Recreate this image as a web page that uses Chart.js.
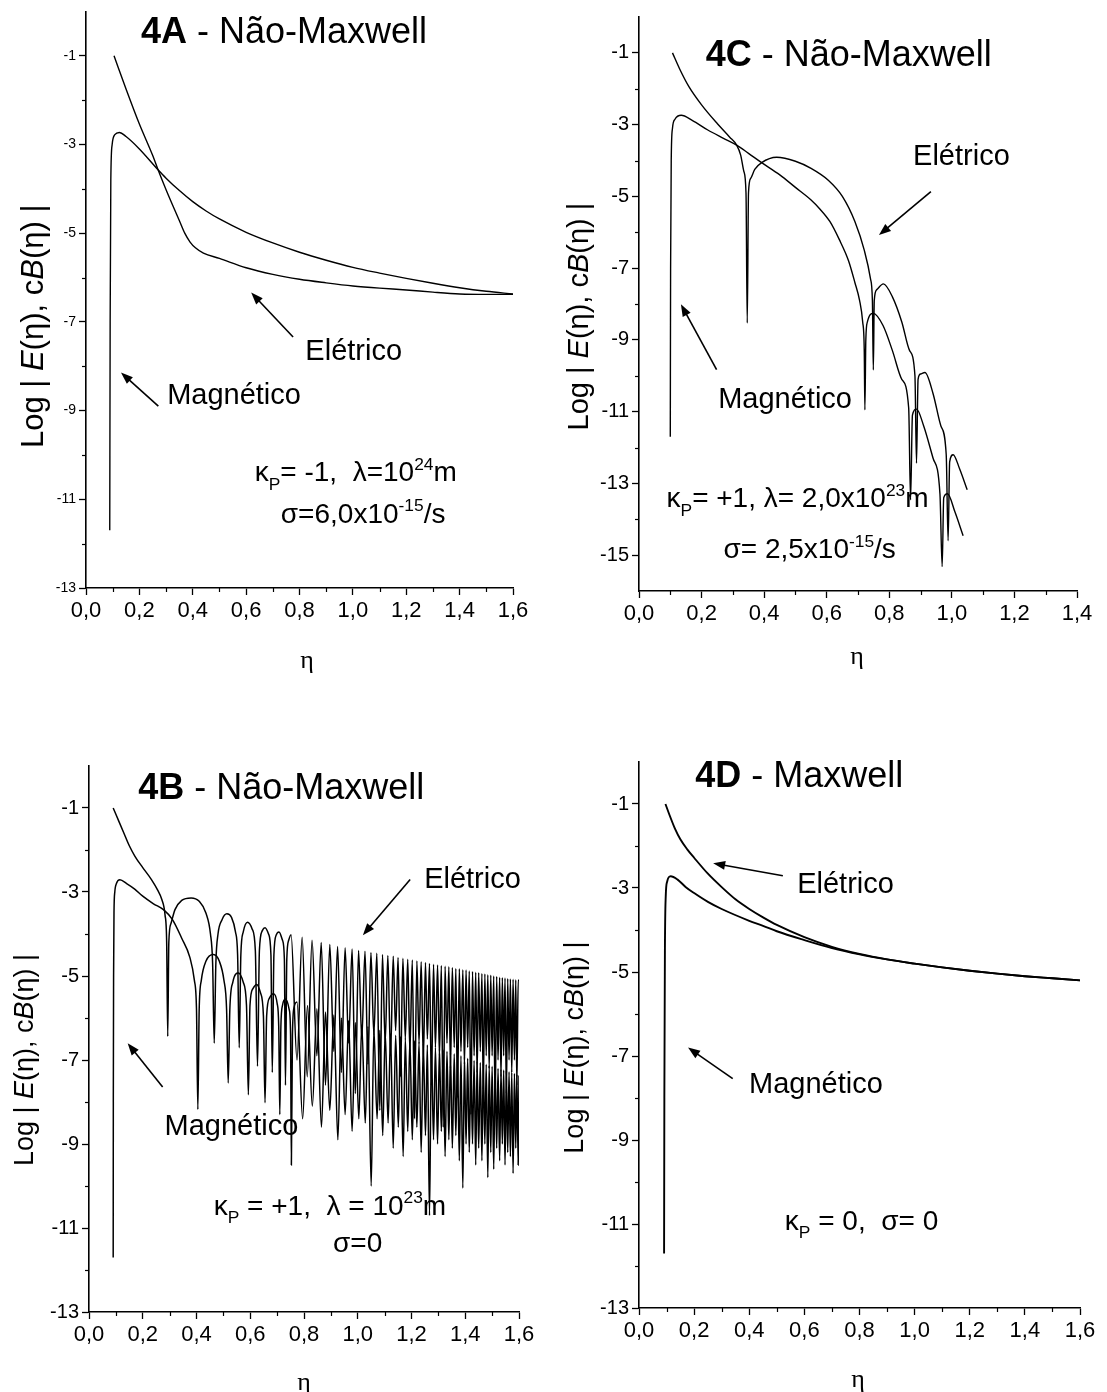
<!DOCTYPE html>
<html>
<head>
<meta charset="utf-8">
<script src="https://cdn.jsdelivr.net/npm/chart.js@4.4.1/dist/chart.umd.min.js"></script>
<style>
html,body{margin:0;padding:0;background:#fff;}
#wrap{position:relative;width:1107px;height:1392px;background:#fff;overflow:hidden;}
canvas{position:absolute;display:block;}
</style>
</head>
<body>
<div id="wrap">
<canvas id="cA" width="553" height="696" style="left:0;top:0;width:553px;height:696px"></canvas>
<canvas id="cC" width="554" height="696" style="left:553px;top:0;width:554px;height:696px"></canvas>
<canvas id="cB" width="553" height="696" style="left:0;top:696px;width:553px;height:696px"></canvas>
<canvas id="cD" width="554" height="696" style="left:553px;top:696px;width:554px;height:696px"></canvas>
</div>
<script>
// ---------- tick values ----------
const xTicks16 = [0, 0.2, 0.4, 0.6, 0.8, 1.0, 1.2, 1.4, 1.6];
const xMinor16 = [0.1, 0.3, 0.5, 0.7, 0.9, 1.1, 1.3, 1.5];
const xTicks14 = [0, 0.2, 0.4, 0.6, 0.8, 1.0, 1.2, 1.4];
const xMinor14 = [0.1, 0.3, 0.5, 0.7, 0.9, 1.1, 1.3];
const yTicks13 = [-13, -11, -9, -7, -5, -3, -1];
const yMinor13 = [-12, -10, -8, -6, -4, -2];
const yTicks15 = [-15, -13, -11, -9, -7, -5, -3, -1];
const yMinor15 = [-14, -12, -10, -8, -6, -4, -2];

// ---------- 4A : [eta, log|field|] ----------
const aElec = [[0.105,-1.0],[0.15,-1.75],[0.2,-2.54],[0.25,-3.25],[0.27,-3.57],[0.3,-4.02],[0.35,-4.72],[0.37,-5.0],[0.39,-5.2],[0.41,-5.33],[0.44,-5.45],[0.5,-5.57],[0.6,-5.78],[0.7,-5.93],[0.8,-6.04],[0.9,-6.12],[1.0,-6.19],[1.1,-6.24],[1.2,-6.28],[1.3,-6.33],[1.4,-6.37],[1.5,-6.38],[1.6,-6.38]];
const aMag = [[0.089,-11.7],[0.0905,-7.0],[0.093,-3.8],[0.098,-3.0],[0.108,-2.78],[0.125,-2.73],[0.15,-2.82],[0.2,-3.1],[0.27,-3.57],[0.3,-3.76],[0.35,-4.04],[0.4,-4.29],[0.45,-4.5],[0.5,-4.68],[0.6,-4.98],[0.7,-5.22],[0.8,-5.43],[0.9,-5.61],[1.0,-5.77],[1.1,-5.9],[1.2,-6.02],[1.3,-6.13],[1.4,-6.23],[1.5,-6.31],[1.6,-6.37]];

// ---------- 4C ----------
const cElec = [[0.107,-1.0],[0.13,-1.45],[0.16,-1.95],[0.2,-2.45],[0.25,-2.97],[0.29,-3.35],[0.312,-3.57],[0.325,-3.85],[0.335,-4.3],[0.342,-4.9],[0.346,-8.53],[0.35,-4.9],[0.357,-4.5],[0.37,-4.25],[0.392,-4.06],[0.44,-3.91],[0.5,-4.02],[0.55,-4.22],[0.605,-4.55],[0.65,-5.0],[0.69,-5.7],[0.72,-6.5],[0.74,-7.3],[0.746,-7.9],[0.749,-9.84],[0.752,-7.9],[0.76,-7.6],[0.781,-7.44],[0.81,-7.8],[0.84,-8.5],[0.865,-9.3],[0.882,-10.0],[0.887,-12.44],[0.892,-10.1],[0.9,-9.95],[0.914,-9.91],[0.94,-10.5],[0.965,-11.4],[0.982,-12.2],[0.988,-14.6],[0.993,-12.4],[1.004,-12.2],[1.025,-12.6],[1.049,-13.18]];
const cMag = [[0.1,-11.7],[0.101,-7.0],[0.103,-4.0],[0.107,-3.1],[0.115,-2.85],[0.135,-2.74],[0.17,-2.88],[0.22,-3.15],[0.27,-3.38],[0.312,-3.57],[0.35,-3.8],[0.392,-4.06],[0.45,-4.4],[0.5,-4.75],[0.55,-5.1],[0.578,-5.35],[0.61,-5.7],[0.64,-6.2],[0.67,-6.8],[0.69,-7.4],[0.705,-7.9],[0.715,-8.5],[0.72,-9.3],[0.722,-10.95],[0.725,-9.0],[0.73,-8.5],[0.749,-8.26],[0.78,-8.6],[0.81,-9.3],[0.84,-10.1],[0.862,-10.9],[0.868,-13.46],[0.874,-11.1],[0.887,-10.93],[0.91,-11.4],[0.94,-12.3],[0.962,-13.3],[0.969,-15.32],[0.974,-13.4],[0.986,-13.29],[1.01,-13.8],[1.036,-14.46]];

// ---------- 4B ----------
const bElec = [[0.09,-1.0],[0.11,-1.3],[0.13,-1.6],[0.15,-1.9],[0.171,-2.15],[0.2,-2.42],[0.233,-2.71],[0.255,-2.95],[0.271,-3.18],[0.283,-3.55],[0.289,-4.2],[0.293,-6.44],[0.297,-4.2],[0.305,-3.75],[0.32,-3.42],[0.345,-3.2],[0.38,-3.14],[0.41,-3.22],[0.435,-3.5],[0.452,-4.0],[0.46,-4.7],[0.466,-6.6],[0.472,-4.7],[0.48,-4.0],[0.495,-3.66],[0.513,-3.52],[0.53,-3.6],[0.545,-3.95],[0.553,-4.5],[0.559,-6.71],[0.565,-4.5],[0.574,-3.95],[0.59,-3.72],[0.607,-3.88],[0.619,-4.4],[0.627,-7.15],[0.634,-4.4],[0.645,-3.92],[0.655,-3.85],[0.668,-4.0],[0.677,-4.5],[0.682,-7.3],[0.688,-4.5],[0.697,-4.02],[0.707,-3.95],[0.72,-4.15],[0.727,-4.6],[0.731,-7.6],[0.736,-4.6],[0.743,-4.15],[0.752,-4.02],
[0.774,-7.0],[0.793,-4.08],[0.812,-7.4],[0.83,-4.15],[0.848,-6.9],[0.864,-4.2],[0.88,-7.6],[0.896,-4.25],[0.911,-6.8],[0.925,-4.3],[0.939,-7.3],[0.953,-4.33],[0.966,-6.6],[0.979,-4.36],[0.991,-7.8],[1.003,-4.39],[1.015,-6.5],[1.027,-4.41],[1.038,-7.1],[1.049,-4.44],[1.06,-6.4],[1.071,-4.46],[1.082,-8.2],[1.092,-4.49],[1.102,-6.6],[1.112,-4.51],[1.122,-6.9],[1.132,-4.53],[1.141,-6.3],[1.15,-4.56],[1.159,-7.4],[1.168,-4.58],[1.177,-6.5],[1.186,-4.6],[1.194,-6.8],[1.203,-4.62],[1.211,-8.4],[1.22,-4.64],[1.228,-6.6],[1.236,-4.66],[1.244,-7.0],[1.252,-4.68],[1.259,-6.5],[1.267,-4.7],[1.274,-7.6],[1.282,-4.72],[1.289,-6.7],[1.297,-4.74],[1.304,-6.9],[1.311,-4.75],[1.318,-8.6],[1.325,-4.77],[1.332,-6.6],[1.339,-4.78],[1.345,-7.2],[1.352,-4.8],[1.359,-6.7],[1.365,-4.82],[1.371,-7.9],[1.378,-4.83],[1.384,-6.8],[1.391,-4.85],[1.397,-7.1],[1.403,-4.86],[1.409,-6.7],[1.415,-4.88],[1.421,-8.3],[1.427,-4.89],[1.433,-6.9],[1.439,-4.91],[1.444,-7.3],[1.45,-4.92],[1.456,-6.8],[1.462,-4.94],[1.467,-7.7],[1.473,-4.95],[1.478,-6.9],[1.484,-4.97],[1.489,-7.2],[1.495,-4.98],[1.5,-6.9],[1.506,-5.0],[1.511,-8.1],[1.517,-5.01],[1.522,-7.0],[1.528,-5.03],[1.533,-7.4],[1.538,-5.04],[1.543,-6.9],[1.548,-5.05],[1.553,-7.8],[1.558,-5.06],[1.563,-7.0],[1.568,-5.07],[1.573,-7.3],[1.578,-5.08],[1.583,-7.0],[1.588,-5.09],[1.592,-7.6],[1.597,-5.1],[1.6,-5.1]];
const bMag = [[0.09,-11.7],[0.0905,-8.0],[0.0915,-5.0],[0.093,-3.5],[0.096,-3.0],[0.102,-2.8],[0.115,-2.71],[0.14,-2.8],[0.17,-2.93],[0.2,-3.1],[0.24,-3.28],[0.277,-3.42],[0.31,-3.65],[0.345,-4.1],[0.375,-4.55],[0.392,-5.1],[0.4,-5.8],[0.405,-8.18],[0.41,-5.8],[0.418,-5.1],[0.435,-4.65],[0.463,-4.49],[0.485,-4.65],[0.502,-5.1],[0.512,-5.8],[0.518,-7.55],[0.524,-5.8],[0.535,-5.15],[0.556,-4.93],[0.574,-5.15],[0.586,-5.7],[0.593,-7.83],[0.599,-5.7],[0.61,-5.3],[0.624,-5.2],[0.638,-5.4],[0.649,-5.95],[0.655,-8.02],[0.661,-5.95],[0.672,-5.52],[0.687,-5.42],[0.7,-5.65],[0.706,-6.2],[0.71,-8.3],[0.714,-6.2],[0.72,-5.7],[0.731,-5.55],[0.745,-5.8],[0.75,-6.4],[0.753,-9.5],[0.757,-6.4],[0.763,-5.75],[0.774,-5.62],
[0.795,-8.4],[0.813,-5.7],[0.831,-8.1],[0.848,-5.78],[0.865,-8.6],[0.88,-5.86],[0.896,-8.2],[0.911,-5.93],[0.926,-8.9],[0.939,-6.0],[0.953,-8.3],[0.966,-6.06],[0.979,-8.7],[0.991,-6.11],[1.004,-8.4],[1.015,-6.16],[1.028,-8.5],[1.038,-6.2],[1.05,-10.0],[1.06,-6.25],[1.072,-8.4],[1.082,-6.29],[1.093,-8.8],[1.102,-6.33],[1.113,-8.5],[1.122,-6.37],[1.132,-9.1],[1.141,-6.41],[1.151,-8.6],[1.159,-6.44],[1.169,-9.3],[1.177,-6.48],[1.186,-8.7],[1.194,-6.51],[1.203,-8.9],[1.211,-6.54],[1.22,-8.6],[1.228,-6.58],[1.236,-9.2],[1.244,-6.61],[1.252,-8.8],[1.259,-6.64],[1.267,-10.7],[1.274,-6.67],[1.282,-8.9],[1.289,-6.7],[1.297,-9.0],[1.304,-6.73],[1.311,-8.7],[1.318,-6.76],[1.325,-9.3],[1.332,-6.79],[1.339,-8.9],[1.345,-6.82],[1.352,-9.1],[1.359,-6.85],[1.365,-8.8],[1.371,-6.88],[1.378,-9.4],[1.384,-6.9],[1.391,-10.05],[1.397,-6.93],[1.403,-9.0],[1.409,-6.96],[1.415,-9.2],[1.421,-6.98],[1.427,-9.0],[1.433,-7.01],[1.439,-9.5],[1.444,-7.03],[1.45,-9.1],[1.456,-7.06],[1.462,-9.4],[1.467,-7.08],[1.473,-9.0],[1.478,-7.1],[1.484,-9.8],[1.489,-7.13],[1.495,-9.2],[1.5,-7.15],[1.506,-9.6],[1.511,-7.17],[1.517,-9.1],[1.522,-7.2],[1.528,-9.4],[1.533,-7.22],[1.538,-9.0],[1.543,-7.24],[1.548,-9.5],[1.553,-7.26],[1.558,-9.2],[1.563,-7.28],[1.568,-9.3],[1.573,-7.3],[1.578,-9.7],[1.583,-7.32],[1.588,-9.1],[1.592,-7.34],[1.597,-9.5],[1.6,-7.37]];

// ---------- 4D ----------
const dElec = [[0.096,-1.0],[0.11,-1.25],[0.13,-1.58],[0.15,-1.84],[0.175,-2.08],[0.2,-2.28],[0.25,-2.66],[0.3,-2.98],[0.35,-3.27],[0.4,-3.5],[0.45,-3.7],[0.5,-3.88],[0.6,-4.17],[0.7,-4.4],[0.8,-4.57],[0.9,-4.7],[1.0,-4.8],[1.1,-4.89],[1.2,-4.97],[1.3,-5.04],[1.4,-5.1],[1.5,-5.15],[1.6,-5.2]];
const dMag = [[0.091,-11.7],[0.092,-8.0],[0.094,-4.5],[0.097,-3.2],[0.102,-2.85],[0.115,-2.72],[0.14,-2.8],[0.17,-2.98],[0.2,-3.12],[0.25,-3.33],[0.3,-3.5],[0.4,-3.78],[0.45,-3.9],[0.5,-4.03],[0.6,-4.24],[0.7,-4.43],[0.8,-4.58],[0.9,-4.7],[1.0,-4.8],[1.1,-4.89],[1.2,-4.97],[1.3,-5.04],[1.4,-5.1],[1.5,-5.15],[1.6,-5.2]];

// ---------- text ----------
const SANS = "'Liberation Sans', Arial, sans-serif";
const SERIF = "'Liberation Serif', 'Times New Roman', serif";
const yTitleSegs = [{t:'Log | '},{t:'E',i:1},{t:'(η), c'},{t:'B',i:1},{t:'(η) |'}];

const panels = {
  cA: { w:553, h:696, area:{left:86, right:513, top:2, bottom:588}, xMax:1.6, yMin:-13,
    xTicks:xTicks16, xMinor:xMinor16, yTicks:yTicks13, yMinor:yMinor13, xFont:22, yFont:14, lw:1.4,
    series:[aElec, aMag],
    title:{v:[0.206,-0.43], segs:[{t:'4A',b:1},{t:' - Não-Maxwell'}], size:36},
    texts:[
      {v:[0.822,-7.63], segs:[{t:'Elétrico'}], size:29},
      {v:[0.304,-8.61], segs:[{t:'Magnético'}], size:29},
      {v:[0.632,-10.37], segs:[{t:'κ'},{t:'P',sub:1},{t:'= -1,  λ=10'},{t:'24',sup:1},{t:'m'}], size:28},
      {v:[0.73,-11.3], segs:[{t:'σ=6,0x10'},{t:'-15',sup:1},{t:'/s'}], size:28}
    ],
    arrows:[[[0.776,-7.34],[0.619,-6.34]], [[0.271,-8.9],[0.131,-8.14]]],
    ylab:{x:32, v:-7.1, size:31}, eta:{v:0.828, dy:73, size:26}
  },
  cC: { w:554, h:696, area:{left:86, right:524, top:17, bottom:591}, xMax:1.4, yMin:-16,
    xTicks:xTicks14, xMinor:xMinor14, yTicks:yTicks15, yMinor:yMinor15, xFont:22, yFont:20, lw:1.4,
    series:[cElec, cMag],
    title:{v:[0.213,-1.0], segs:[{t:'4C',b:1},{t:' - Não-Maxwell'}], size:36},
    texts:[
      {v:[0.876,-3.84], segs:[{t:'Elétrico'}], size:29},
      {v:[0.253,-10.61], segs:[{t:'Magnético'}], size:29},
      {v:[0.088,-13.39], segs:[{t:'κ'},{t:'P',sub:1},{t:'= +1, λ= 2,0x10'},{t:'23',sup:1},{t:'m'}], size:28},
      {v:[0.27,-14.81], segs:[{t:'σ= 2,5x10'},{t:'-15',sup:1},{t:'/s'}], size:28}
    ],
    arrows:[[[0.933,-4.87],[0.767,-6.08]], [[0.248,-9.83],[0.134,-8.01]]],
    ylab:{x:25, v:-8.35, size:29}, eta:{v:0.697, dy:66, size:26}
  },
  cB: { w:553, h:696, area:{left:89, right:519, top:70, bottom:616}, xMax:1.6, yMin:-13,
    xTicks:xTicks16, xMinor:xMinor16, yTicks:yTicks13, yMinor:yMinor13, xFont:22, yFont:20, lw:1.5,
    series:[bElec, bMag],
    title:{v:[0.183,-0.48], segs:[{t:'4B',b:1},{t:' - Não-Maxwell'}], size:36},
    texts:[
      {v:[1.247,-2.65], segs:[{t:'Elétrico'}], size:29},
      {v:[0.281,-8.53], segs:[{t:'Magnético'}], size:29},
      {v:[0.464,-10.45], segs:[{t:'κ'},{t:'P',sub:1},{t:' = +1,  λ = 10'},{t:'23',sup:1},{t:'m'}], size:28},
      {v:[0.908,-11.34], segs:[{t:'σ=0'}], size:28}
    ],
    arrows:[[[1.195,-2.7],[1.019,-4.03]], [[0.274,-7.64],[0.144,-6.6]]],
    ylab:{x:23, v:-7.0, size:27}, eta:{v:0.8, dy:71, size:26}
  },
  cD: { w:554, h:696, area:{left:86, right:527, top:66, bottom:612}, xMax:1.6, yMin:-13,
    xTicks:xTicks16, xMinor:xMinor16, yTicks:yTicks13, yMinor:yMinor13, xFont:22, yFont:20, lw:1.9,
    series:[dElec, dMag],
    title:{v:[0.204,-0.29], segs:[{t:'4D',b:1},{t:' - Maxwell'}], size:36},
    texts:[
      {v:[0.574,-2.86], segs:[{t:'Elétrico'}], size:29},
      {v:[0.399,-7.64], segs:[{t:'Magnético'}], size:29},
      {v:[0.529,-10.9], segs:[{t:'κ'},{t:'P',sub:1},{t:' = 0,  σ= 0'}], size:28}
    ],
    arrows:[[[0.522,-2.71],[0.269,-2.41]], [[0.34,-7.54],[0.178,-6.8]]],
    ylab:{x:20, v:-6.8, size:27}, eta:{v:0.795, dy:72, size:26}
  }
};

// ---------- drawing helpers ----------
function segFont(s, size) {
  const sz = (s.sub || s.sup) ? size * 0.62 : size;
  return { font: (s.i ? 'italic ' : '') + (s.b ? 'bold ' : '') + sz.toFixed(1) + 'px ' + SANS,
           dy: s.sub ? size * 0.3 : (s.sup ? -size * 0.42 : 0) };
}
function drawRich(ctx, x, y, segs, size, align) {
  let total = 0;
  const ws = segs.map(s => { ctx.font = segFont(s, size).font; const w = ctx.measureText(s.t).width; total += w; return w; });
  let cx = align === 'center' ? x - total / 2 : x;
  const base = y + size * 0.36;
  ctx.textAlign = 'left';
  ctx.textBaseline = 'alphabetic';
  segs.forEach((s, k) => {
    const f = segFont(s, size);
    ctx.font = f.font;
    ctx.fillText(s.t, cx, base + f.dy);
    cx += ws[k];
  });
}
function drawArrow(ctx, x1, y1, x2, y2) {
  const a = Math.atan2(y2 - y1, x2 - x1);
  const L = 12, Wd = 4.5;
  ctx.beginPath();
  ctx.moveTo(x1, y1);
  ctx.lineTo(x2 - Math.cos(a) * L * 0.7, y2 - Math.sin(a) * L * 0.7);
  ctx.stroke();
  ctx.beginPath();
  ctx.moveTo(x2, y2);
  ctx.lineTo(x2 - Math.cos(a) * L + Math.sin(a) * Wd, y2 - Math.sin(a) * L - Math.cos(a) * Wd);
  ctx.lineTo(x2 - Math.cos(a) * L - Math.sin(a) * Wd, y2 - Math.sin(a) * L + Math.cos(a) * Wd);
  ctx.closePath();
  ctx.fill();
}

function annotPlugin(P) {
  return {
    id: 'annot',
    afterDraw(chart) {
      const { ctx, scales: { x, y }, chartArea: ar } = chart;
      ctx.save();
      ctx.fillStyle = '#000';
      ctx.strokeStyle = '#000';
      ctx.lineWidth = 1.2;
      P.xMinor.forEach(v => {
        const px = Math.round(x.getPixelForValue(v)) + 0.5;
        ctx.beginPath(); ctx.moveTo(px, ar.bottom); ctx.lineTo(px, ar.bottom + 4); ctx.stroke();
      });
      P.yMinor.forEach(v => {
        const py = Math.round(y.getPixelForValue(v)) + 0.5;
        ctx.beginPath(); ctx.moveTo(ar.left - 4, py); ctx.lineTo(ar.left, py); ctx.stroke();
      });
      drawRich(ctx, x.getPixelForValue(P.title.v[0]), y.getPixelForValue(P.title.v[1]), P.title.segs, P.title.size, 'left');
      P.texts.forEach(t => drawRich(ctx, x.getPixelForValue(t.v[0]), y.getPixelForValue(t.v[1]), t.segs, t.size, 'left'));
      ctx.lineWidth = 1.6;
      P.arrows.forEach(a => drawArrow(ctx,
        x.getPixelForValue(a[0][0]), y.getPixelForValue(a[0][1]),
        x.getPixelForValue(a[1][0]), y.getPixelForValue(a[1][1])));
      ctx.save();
      ctx.translate(P.ylab.x, y.getPixelForValue(P.ylab.v));
      ctx.rotate(-Math.PI / 2);
      drawRich(ctx, 0, 0, yTitleSegs, P.ylab.size, 'center');
      ctx.restore();
      ctx.font = P.eta.size + 'px ' + SERIF;
      ctx.textAlign = 'center';
      ctx.textBaseline = 'middle';
      ctx.fillText('η', x.getPixelForValue(P.eta.v), ar.bottom + P.eta.dy);
      ctx.restore();
    }
  };
}

function makeChart(id) {
  const P = panels[id];
  const fmtX = v => Number(v).toFixed(1).replace('.', ',');
  return new Chart(document.getElementById(id), {
    type: 'line',
    data: {
      datasets: P.series.map(s => ({
        data: s.map(p => ({ x: p[0], y: p[1] })),
        borderColor: '#000', borderWidth: P.lw, pointRadius: 0, fill: false,
        cubicInterpolationMode: 'monotone', tension: 0.4
      }))
    },
    options: {
      responsive: false, animation: false, devicePixelRatio: 1, parsing: false, events: [],
      layout: { padding: { top: P.area.top, right: P.w - P.area.right, left: 0, bottom: 0 } },
      plugins: { legend: { display: false }, tooltip: { enabled: false }, title: { display: false } },
      scales: {
        x: {
          type: 'linear', position: 'bottom', min: 0, max: P.xMax,
          afterBuildTicks: s => { s.ticks = P.xTicks.map(v => ({ value: v })); },
          afterFit: s => { s.height = P.h - P.area.bottom; },
          ticks: { autoSkip: false, maxRotation: 0, padding: 3, color: '#000',
                   font: { family: SANS, size: P.xFont }, callback: fmtX },
          grid: { drawOnChartArea: false, drawTicks: true, tickLength: 7, color: '#000', tickWidth: 1.3 },
          border: { display: true, color: '#000', width: 1.6 }
        },
        y: {
          type: 'linear', position: 'left', min: P.yMin, max: 0,
          afterBuildTicks: s => { s.ticks = P.yTicks.map(v => ({ value: v })); },
          afterFit: s => { s.width = P.area.left; },
          ticks: { autoSkip: false, padding: 3, color: '#000',
                   font: { family: SANS, size: P.yFont }, callback: v => String(v) },
          grid: { drawOnChartArea: false, drawTicks: true, tickLength: 7, color: '#000', tickWidth: 1.3 },
          border: { display: true, color: '#000', width: 1.6 }
        }
      }
    },
    plugins: [annotPlugin(P)]
  });
}

['cA', 'cC', 'cB', 'cD'].forEach(makeChart);
</script>
</body>
</html>
